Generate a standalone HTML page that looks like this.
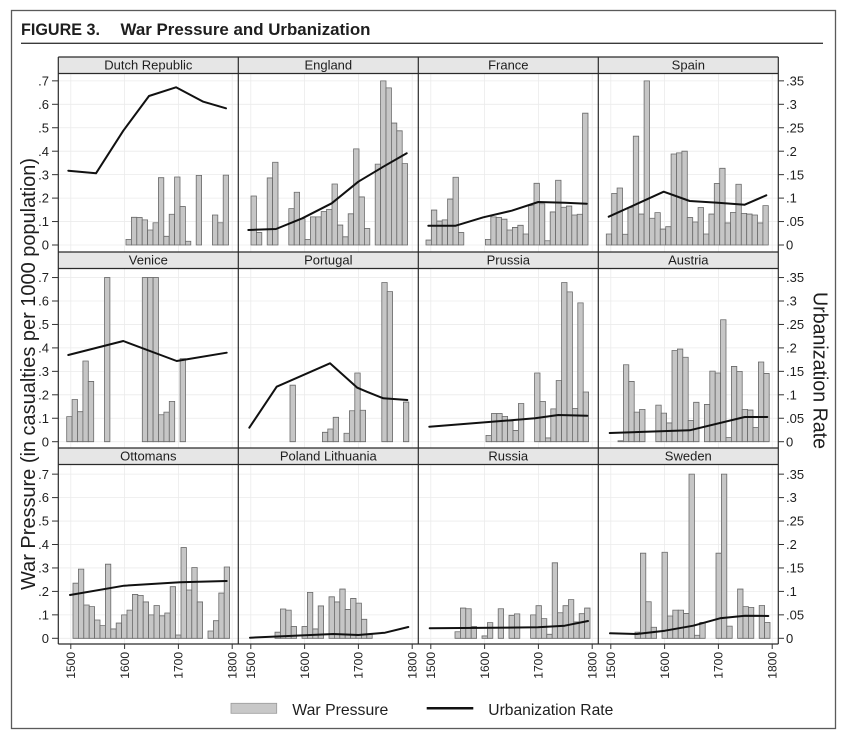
<!DOCTYPE html>
<html><head><meta charset="utf-8"><style>
html,body{margin:0;padding:0;background:#fff;}
svg{display:block;}
text{font-family:"Liberation Sans",Arial,sans-serif;fill:#1e1e1e;}
.b rect{fill:#c6c6c6;stroke:#6a6a6a;stroke-width:0.8;vector-effect:non-scaling-stroke;}
.ln{fill:none;stroke:#111;stroke-width:2;stroke-linejoin:round;stroke-linecap:round;}
.g{stroke:#ebebeb;stroke-width:0.8;}
.f{stroke:#2a2a2a;stroke-width:1.2;}
.t{stroke:#333;stroke-width:1;}
.yl{font-size:13px;}
.xl{font-size:12px;}
.hd{font-size:13px;}
</style></head><body>
<svg width="843" height="736" viewBox="0 0 843 736" xmlns="http://www.w3.org/2000/svg">
<rect x="0" y="0" width="843" height="736" fill="#fff"/>
<rect x="11.5" y="10.5" width="824" height="718" fill="none" stroke="#5a5a5a" stroke-width="1.3"/>
<text x="21" y="35" style="font-size:16.5px;font-weight:bold" textLength="79" lengthAdjust="spacingAndGlyphs">FIGURE 3.</text>
<text x="120.5" y="35" style="font-size:16.5px;font-weight:bold" textLength="250" lengthAdjust="spacingAndGlyphs">War Pressure and Urbanization</text>
<line x1="21" y1="43.3" x2="823" y2="43.3" stroke="#3a3a3a" stroke-width="1.3"/>

<!-- horizontal grid -->
<g class="g">
<line x1="58.3" x2="778.3" y1="221.55" y2="221.55"/><line x1="58.3" x2="778.3" y1="198.1" y2="198.1"/><line x1="58.3" x2="778.3" y1="174.65" y2="174.65"/><line x1="58.3" x2="778.3" y1="151.2" y2="151.2"/><line x1="58.3" x2="778.3" y1="127.75" y2="127.75"/><line x1="58.3" x2="778.3" y1="104.3" y2="104.3"/><line x1="58.3" x2="778.3" y1="80.85" y2="80.85"/><line x1="58.3" x2="778.3" y1="245" y2="245"/>
<line x1="58.3" x2="778.3" y1="418.25" y2="418.25"/><line x1="58.3" x2="778.3" y1="394.8" y2="394.8"/><line x1="58.3" x2="778.3" y1="371.35" y2="371.35"/><line x1="58.3" x2="778.3" y1="347.9" y2="347.9"/><line x1="58.3" x2="778.3" y1="324.45" y2="324.45"/><line x1="58.3" x2="778.3" y1="301" y2="301"/><line x1="58.3" x2="778.3" y1="277.55" y2="277.55"/><line x1="58.3" x2="778.3" y1="441.7" y2="441.7"/>
<line x1="58.3" x2="778.3" y1="614.85" y2="614.85"/><line x1="58.3" x2="778.3" y1="591.4" y2="591.4"/><line x1="58.3" x2="778.3" y1="567.95" y2="567.95"/><line x1="58.3" x2="778.3" y1="544.5" y2="544.5"/><line x1="58.3" x2="778.3" y1="521.05" y2="521.05"/><line x1="58.3" x2="778.3" y1="497.6" y2="497.6"/><line x1="58.3" x2="778.3" y1="474.15" y2="474.15"/><line x1="58.3" x2="778.3" y1="638.3" y2="638.3"/>
<!-- vertical grid -->
<line x1="70.8" x2="70.8" y1="73" y2="644"/><line x1="124.6" x2="124.6" y1="73" y2="644"/><line x1="178.4" x2="178.4" y1="73" y2="644"/><line x1="232.2" x2="232.2" y1="73" y2="644"/>
<line x1="250.8" x2="250.8" y1="73" y2="644"/><line x1="304.6" x2="304.6" y1="73" y2="644"/><line x1="358.4" x2="358.4" y1="73" y2="644"/><line x1="412.2" x2="412.2" y1="73" y2="644"/>
<line x1="430.8" x2="430.8" y1="73" y2="644"/><line x1="484.6" x2="484.6" y1="73" y2="644"/><line x1="538.4" x2="538.4" y1="73" y2="644"/><line x1="592.2" x2="592.2" y1="73" y2="644"/>
<line x1="610.8" x2="610.8" y1="73" y2="644"/><line x1="664.6" x2="664.6" y1="73" y2="644"/><line x1="718.4" x2="718.4" y1="73" y2="644"/><line x1="772.2" x2="772.2" y1="73" y2="644"/>
</g>

<!-- header strips -->
<g fill="#e6e6e6">
<rect x="58.3" y="57" width="720" height="16.5"/>
<rect x="58.3" y="252" width="720" height="16.5"/>
<rect x="58.3" y="448" width="720" height="16.5"/>
</g>

<!-- BARS row 1 -->
<g class="b" transform="translate(126,245) scale(5.4,-234.5)">
<rect x="0" y="0" width="1" height=".024"/><rect x="1" y="0" width="1" height=".118"/><rect x="2" y="0" width="1" height=".117"/><rect x="3" y="0" width="1" height=".107"/><rect x="4" y="0" width="1" height=".064"/><rect x="5" y="0" width="1" height=".095"/><rect x="6" y="0" width="1" height=".287"/><rect x="7" y="0" width="1" height=".037"/><rect x="8" y="0" width="1" height=".131"/><rect x="9" y="0" width="1" height=".29"/><rect x="10" y="0" width="1" height=".164"/><rect x="11" y="0" width="1" height=".016"/><rect x="13" y="0" width="1" height=".297"/><rect x="16" y="0" width="1" height=".128"/><rect x="17" y="0" width="1" height=".095"/><rect x="18" y="0" width="1" height=".298"/>
</g>
<g class="b" transform="translate(251,245) scale(5.4,-234.5)">
<rect x="0" y="0" width="1" height=".209"/><rect x="1" y="0" width="1" height=".053"/><rect x="3" y="0" width="1" height=".286"/><rect x="4" y="0" width="1" height=".353"/><rect x="7" y="0" width="1" height=".155"/><rect x="8" y="0" width="1" height=".225"/><rect x="9" y="0" width="1" height=".112"/><rect x="10" y="0" width="1" height=".024"/><rect x="11" y="0" width="1" height=".12"/><rect x="12" y="0" width="1" height=".12"/><rect x="13" y="0" width="1" height=".143"/><rect x="14" y="0" width="1" height=".152"/><rect x="15" y="0" width="1" height=".26"/><rect x="16" y="0" width="1" height=".085"/><rect x="17" y="0" width="1" height=".035"/><rect x="18" y="0" width="1" height=".133"/><rect x="19" y="0" width="1" height=".41"/><rect x="20" y="0" width="1" height=".205"/><rect x="21" y="0" width="1" height=".07"/><rect x="23" y="0" width="1" height=".345"/><rect x="24" y="0" width="1" height=".70"/><rect x="25" y="0" width="1" height=".67"/><rect x="26" y="0" width="1" height=".52"/><rect x="27" y="0" width="1" height=".487"/><rect x="28" y="0" width="1" height=".347"/>
</g>
<g class="b" transform="translate(426,245) scale(5.4,-234.5)">
<rect x="0" y="0" width="1" height=".021"/><rect x="1" y="0" width="1" height=".149"/><rect x="2" y="0" width="1" height=".102"/><rect x="3" y="0" width="1" height=".107"/><rect x="4" y="0" width="1" height=".196"/><rect x="5" y="0" width="1" height=".289"/><rect x="6" y="0" width="1" height=".053"/><rect x="11" y="0" width="1" height=".024"/><rect x="12" y="0" width="1" height=".12"/><rect x="13" y="0" width="1" height=".117"/><rect x="14" y="0" width="1" height=".11"/><rect x="15" y="0" width="1" height=".064"/><rect x="16" y="0" width="1" height=".075"/><rect x="17" y="0" width="1" height=".084"/><rect x="18" y="0" width="1" height=".047"/><rect x="19" y="0" width="1" height=".168"/><rect x="20" y="0" width="1" height=".263"/><rect x="21" y="0" width="1" height=".176"/><rect x="22" y="0" width="1" height=".018"/><rect x="23" y="0" width="1" height=".141"/><rect x="24" y="0" width="1" height=".276"/><rect x="25" y="0" width="1" height=".161"/><rect x="26" y="0" width="1" height=".166"/><rect x="27" y="0" width="1" height=".128"/><rect x="28" y="0" width="1" height=".131"/><rect x="29" y="0" width="1" height=".562"/>
</g>
<g class="b" transform="translate(606.3,245) scale(5.4,-234.5)">
<rect x="0" y="0" width="1" height=".047"/><rect x="1" y="0" width="1" height=".22"/><rect x="2" y="0" width="1" height=".243"/><rect x="3" y="0" width="1" height=".046"/><rect x="4" y="0" width="1" height=".16"/><rect x="5" y="0" width="1" height=".464"/><rect x="6" y="0" width="1" height=".132"/><rect x="7" y="0" width="1" height=".70"/><rect x="8" y="0" width="1" height=".114"/><rect x="9" y="0" width="1" height=".138"/><rect x="10" y="0" width="1" height=".068"/><rect x="11" y="0" width="1" height=".078"/><rect x="12" y="0" width="1" height=".388"/><rect x="13" y="0" width="1" height=".393"/><rect x="14" y="0" width="1" height=".40"/><rect x="15" y="0" width="1" height=".117"/><rect x="16" y="0" width="1" height=".098"/><rect x="17" y="0" width="1" height=".16"/><rect x="18" y="0" width="1" height=".047"/><rect x="19" y="0" width="1" height=".132"/><rect x="20" y="0" width="1" height=".262"/><rect x="21" y="0" width="1" height=".327"/><rect x="22" y="0" width="1" height=".094"/><rect x="23" y="0" width="1" height=".139"/><rect x="24" y="0" width="1" height=".259"/><rect x="25" y="0" width="1" height=".135"/><rect x="26" y="0" width="1" height=".132"/><rect x="27" y="0" width="1" height=".128"/><rect x="28" y="0" width="1" height=".094"/><rect x="29" y="0" width="1" height=".168"/>
</g>

<!-- BARS row 2 -->
<g class="b" transform="translate(66.7,441.7) scale(5.4,-234.5)">
<rect x="0" y="0" width="1" height=".107"/><rect x="1" y="0" width="1" height=".18"/><rect x="2" y="0" width="1" height=".128"/><rect x="3" y="0" width="1" height=".344"/><rect x="4" y="0" width="1" height=".257"/><rect x="7" y="0" width="1" height=".70"/><rect x="14" y="0" width="1" height=".70"/><rect x="15" y="0" width="1" height=".70"/><rect x="16" y="0" width="1" height=".70"/><rect x="17" y="0" width="1" height=".115"/><rect x="18" y="0" width="1" height=".126"/><rect x="19" y="0" width="1" height=".172"/><rect x="21" y="0" width="1" height=".354"/>
</g>
<g class="b" transform="translate(290,441.7) scale(5.4,-234.5)">
<rect x="0" y="0" width="1" height=".241"/><rect x="6" y="0" width="1" height=".04"/><rect x="7" y="0" width="1" height=".054"/><rect x="8" y="0" width="1" height=".104"/><rect x="10" y="0" width="1" height=".036"/><rect x="11" y="0" width="1" height=".132"/><rect x="12" y="0" width="1" height=".293"/><rect x="13" y="0" width="1" height=".134"/><rect x="17" y="0" width="1" height=".679"/><rect x="18" y="0" width="1" height=".64"/><rect x="21" y="0" width="1" height=".169"/>
</g>
<g class="b" transform="translate(486,441.7) scale(5.4,-234.5)">
<rect x="0" y="0" width="1" height=".027"/><rect x="1" y="0" width="1" height=".12"/><rect x="2" y="0" width="1" height=".12"/><rect x="3" y="0" width="1" height=".108"/><rect x="4" y="0" width="1" height=".088"/><rect x="5" y="0" width="1" height=".048"/><rect x="6" y="0" width="1" height=".163"/><rect x="9" y="0" width="1" height=".293"/><rect x="10" y="0" width="1" height=".172"/><rect x="11" y="0" width="1" height=".016"/><rect x="12" y="0" width="1" height=".14"/><rect x="13" y="0" width="1" height=".261"/><rect x="14" y="0" width="1" height=".679"/><rect x="15" y="0" width="1" height=".639"/><rect x="16" y="0" width="1" height=".142"/><rect x="17" y="0" width="1" height=".592"/><rect x="18" y="0" width="1" height=".212"/>
</g>
<g class="b" transform="translate(618,441.7) scale(5.4,-234.5)">
<rect x="0" y="0" width="1" height=".004"/><rect x="1" y="0" width="1" height=".328"/><rect x="2" y="0" width="1" height=".257"/><rect x="3" y="0" width="1" height=".126"/><rect x="4" y="0" width="1" height=".138"/><rect x="7" y="0" width="1" height=".156"/><rect x="8" y="0" width="1" height=".122"/><rect x="9" y="0" width="1" height=".08"/><rect x="10" y="0" width="1" height=".389"/><rect x="11" y="0" width="1" height=".395"/><rect x="12" y="0" width="1" height=".36"/><rect x="13" y="0" width="1" height=".091"/><rect x="14" y="0" width="1" height=".168"/><rect x="16" y="0" width="1" height=".159"/><rect x="17" y="0" width="1" height=".301"/><rect x="18" y="0" width="1" height=".293"/><rect x="19" y="0" width="1" height=".52"/><rect x="20" y="0" width="1" height=".018"/><rect x="21" y="0" width="1" height=".321"/><rect x="22" y="0" width="1" height=".30"/><rect x="23" y="0" width="1" height=".138"/><rect x="24" y="0" width="1" height=".135"/><rect x="25" y="0" width="1" height=".061"/><rect x="26" y="0" width="1" height=".34"/><rect x="27" y="0" width="1" height=".291"/>
</g>

<!-- BARS row 3 -->
<g class="b" transform="translate(73,638.3) scale(5.4,-234.5)">
<rect x="0" y="0" width="1" height=".235"/><rect x="1" y="0" width="1" height=".295"/><rect x="2" y="0" width="1" height=".142"/><rect x="3" y="0" width="1" height=".135"/><rect x="4" y="0" width="1" height=".078"/><rect x="5" y="0" width="1" height=".054"/><rect x="6" y="0" width="1" height=".316"/><rect x="7" y="0" width="1" height=".04"/><rect x="8" y="0" width="1" height=".065"/><rect x="9" y="0" width="1" height=".1"/><rect x="10" y="0" width="1" height=".12"/><rect x="11" y="0" width="1" height=".187"/><rect x="12" y="0" width="1" height=".183"/><rect x="13" y="0" width="1" height=".155"/><rect x="14" y="0" width="1" height=".1"/><rect x="15" y="0" width="1" height=".14"/><rect x="16" y="0" width="1" height=".096"/><rect x="17" y="0" width="1" height=".108"/><rect x="18" y="0" width="1" height=".22"/><rect x="19" y="0" width="1" height=".014"/><rect x="20" y="0" width="1" height=".387"/><rect x="21" y="0" width="1" height=".206"/><rect x="22" y="0" width="1" height=".302"/><rect x="23" y="0" width="1" height=".155"/><rect x="25" y="0" width="1" height=".031"/><rect x="26" y="0" width="1" height=".075"/><rect x="27" y="0" width="1" height=".193"/><rect x="28" y="0" width="1" height=".304"/>
</g>
<g class="b" transform="translate(275,638.3) scale(5.4,-234.5)">
<rect x="0" y="0" width="1" height=".026"/><rect x="1" y="0" width="1" height=".125"/><rect x="2" y="0" width="1" height=".12"/><rect x="3" y="0" width="1" height=".05"/><rect x="5" y="0" width="1" height=".05"/><rect x="6" y="0" width="1" height=".196"/><rect x="7" y="0" width="1" height=".04"/><rect x="8" y="0" width="1" height=".138"/><rect x="10" y="0" width="1" height=".177"/><rect x="11" y="0" width="1" height=".155"/><rect x="12" y="0" width="1" height=".21"/><rect x="13" y="0" width="1" height=".123"/><rect x="14" y="0" width="1" height=".17"/><rect x="15" y="0" width="1" height=".15"/><rect x="16" y="0" width="1" height=".081"/><rect x="17" y="0" width="1" height=".017"/>
</g>
<g class="b" transform="translate(455,638.3) scale(5.4,-234.5)">
<rect x="0" y="0" width="1" height=".028"/><rect x="1" y="0" width="1" height=".129"/><rect x="2" y="0" width="1" height=".126"/><rect x="3" y="0" width="1" height=".05"/><rect x="5" y="0" width="1" height=".01"/><rect x="6" y="0" width="1" height=".067"/><rect x="8" y="0" width="1" height=".126"/><rect x="10" y="0" width="1" height=".098"/><rect x="11" y="0" width="1" height=".104"/><rect x="14" y="0" width="1" height=".10"/><rect x="15" y="0" width="1" height=".139"/><rect x="16" y="0" width="1" height=".084"/><rect x="17" y="0" width="1" height=".017"/><rect x="18" y="0" width="1" height=".322"/><rect x="19" y="0" width="1" height=".109"/><rect x="20" y="0" width="1" height=".139"/><rect x="21" y="0" width="1" height=".165"/><rect x="22" y="0" width="1" height=".07"/><rect x="23" y="0" width="1" height=".105"/><rect x="24" y="0" width="1" height=".129"/>
</g>
<g class="b" transform="translate(635,638.3) scale(5.4,-234.5)">
<rect x="0" y="0" width="1" height=".026"/><rect x="1" y="0" width="1" height=".363"/><rect x="2" y="0" width="1" height=".156"/><rect x="3" y="0" width="1" height=".047"/><rect x="5" y="0" width="1" height=".367"/><rect x="6" y="0" width="1" height=".095"/><rect x="7" y="0" width="1" height=".12"/><rect x="8" y="0" width="1" height=".12"/><rect x="9" y="0" width="1" height=".106"/><rect x="10" y="0" width="1" height=".70"/><rect x="11" y="0" width="1" height=".013"/><rect x="12" y="0" width="1" height=".068"/><rect x="15" y="0" width="1" height=".363"/><rect x="16" y="0" width="1" height=".70"/><rect x="17" y="0" width="1" height=".052"/><rect x="19" y="0" width="1" height=".21"/><rect x="20" y="0" width="1" height=".135"/><rect x="21" y="0" width="1" height=".132"/><rect x="23" y="0" width="1" height=".14"/><rect x="24" y="0" width="1" height=".068"/>
</g>

<!-- LINES -->
<polyline class="ln" points="68.3,170.7 96,173.3 123.3,130.7 149,96 176,87.3 203.3,101.7 226,108.3"/>
<polyline class="ln" points="248.3,230 276,229 302.3,218.3 331.7,203.3 358.3,181.7 383.3,166.7 406.7,153.3"/>
<polyline class="ln" points="428.3,225.7 455.7,225.7 483.3,217.3 511.7,210.7 538.3,202 565,202.7 586.7,203.7"/>
<polyline class="ln" points="608.7,216.7 663.7,191.7 689.7,201 718,202.7 744.7,204.7 766.3,195.3"/>
<polyline class="ln" points="68.3,355 123.3,341 176.7,361 226.7,352.7"/>
<polyline class="ln" points="249.3,427.7 276.7,386.7 330,363.3 357.3,387.7 366.7,391.7 383.3,398.3 407.3,400"/>
<polyline class="ln" points="429.3,426.7 535,418.3 558.3,415 587.3,415.7"/>
<polyline class="ln" points="609.7,433 689.7,430.3 744.7,417 767.3,417"/>
<polyline class="ln" points="70,595 124,585.7 180,582.3 226.7,581"/>
<polyline class="ln" points="250,637.7 333.3,634 358.3,635 385,632.7 408.3,627"/>
<polyline class="ln" points="429.7,628.3 538,627.3 564.7,625.7 588,621"/>
<polyline class="ln" points="610,633.3 636.7,634 665,630.7 693.3,625.7 720,618.3 745,615.7 768.3,616"/>

<!-- frame lines -->
<g class="f">
<line x1="58.3" x2="778.3" y1="57" y2="57"/><line x1="58.3" x2="778.3" y1="73.5" y2="73.5"/>
<line x1="58.3" x2="778.3" y1="252" y2="252"/><line x1="58.3" x2="778.3" y1="268.5" y2="268.5"/>
<line x1="58.3" x2="778.3" y1="448" y2="448"/><line x1="58.3" x2="778.3" y1="464.5" y2="464.5"/>
<line x1="58.3" x2="778.3" y1="644" y2="644"/>
<line x1="58.3" x2="58.3" y1="57" y2="644"/><line x1="238.3" x2="238.3" y1="57" y2="644"/><line x1="418.3" x2="418.3" y1="57" y2="644"/><line x1="598.3" x2="598.3" y1="57" y2="644"/><line x1="778.3" x2="778.3" y1="57" y2="644"/>
</g>

<!-- headers text -->
<g class="hd" text-anchor="middle">
<text x="148.3" y="69.5">Dutch Republic</text><text x="328.3" y="69.5">England</text><text x="508.3" y="69.5">France</text><text x="688.3" y="69.5">Spain</text>
<text x="148.3" y="264.5">Venice</text><text x="328.3" y="264.5">Portugal</text><text x="508.3" y="264.5">Prussia</text><text x="688.3" y="264.5">Austria</text>
<text x="148.3" y="460.5">Ottomans</text><text x="328.3" y="460.5">Poland Lithuania</text><text x="508.3" y="460.5">Russia</text><text x="688.3" y="460.5">Sweden</text>
</g>

<!-- left ticks -->
<g class="t">
<line x1="52" x2="58.3" y1="245" y2="245"/><line x1="52" x2="58.3" y1="221.55" y2="221.55"/><line x1="52" x2="58.3" y1="198.1" y2="198.1"/><line x1="52" x2="58.3" y1="174.65" y2="174.65"/><line x1="52" x2="58.3" y1="151.2" y2="151.2"/><line x1="52" x2="58.3" y1="127.75" y2="127.75"/><line x1="52" x2="58.3" y1="104.3" y2="104.3"/><line x1="52" x2="58.3" y1="80.85" y2="80.85"/>
<line x1="52" x2="58.3" y1="441.7" y2="441.7"/><line x1="52" x2="58.3" y1="418.25" y2="418.25"/><line x1="52" x2="58.3" y1="394.8" y2="394.8"/><line x1="52" x2="58.3" y1="371.35" y2="371.35"/><line x1="52" x2="58.3" y1="347.9" y2="347.9"/><line x1="52" x2="58.3" y1="324.45" y2="324.45"/><line x1="52" x2="58.3" y1="301" y2="301"/><line x1="52" x2="58.3" y1="277.55" y2="277.55"/>
<line x1="52" x2="58.3" y1="638.3" y2="638.3"/><line x1="52" x2="58.3" y1="614.85" y2="614.85"/><line x1="52" x2="58.3" y1="591.4" y2="591.4"/><line x1="52" x2="58.3" y1="567.95" y2="567.95"/><line x1="52" x2="58.3" y1="544.5" y2="544.5"/><line x1="52" x2="58.3" y1="521.05" y2="521.05"/><line x1="52" x2="58.3" y1="497.6" y2="497.6"/><line x1="52" x2="58.3" y1="474.15" y2="474.15"/>
<!-- right ticks -->
<line x1="778.3" x2="784" y1="245" y2="245"/><line x1="778.3" x2="784" y1="221.55" y2="221.55"/><line x1="778.3" x2="784" y1="198.1" y2="198.1"/><line x1="778.3" x2="784" y1="174.65" y2="174.65"/><line x1="778.3" x2="784" y1="151.2" y2="151.2"/><line x1="778.3" x2="784" y1="127.75" y2="127.75"/><line x1="778.3" x2="784" y1="104.3" y2="104.3"/><line x1="778.3" x2="784" y1="80.85" y2="80.85"/>
<line x1="778.3" x2="784" y1="441.7" y2="441.7"/><line x1="778.3" x2="784" y1="418.25" y2="418.25"/><line x1="778.3" x2="784" y1="394.8" y2="394.8"/><line x1="778.3" x2="784" y1="371.35" y2="371.35"/><line x1="778.3" x2="784" y1="347.9" y2="347.9"/><line x1="778.3" x2="784" y1="324.45" y2="324.45"/><line x1="778.3" x2="784" y1="301" y2="301"/><line x1="778.3" x2="784" y1="277.55" y2="277.55"/>
<line x1="778.3" x2="784" y1="638.3" y2="638.3"/><line x1="778.3" x2="784" y1="614.85" y2="614.85"/><line x1="778.3" x2="784" y1="591.4" y2="591.4"/><line x1="778.3" x2="784" y1="567.95" y2="567.95"/><line x1="778.3" x2="784" y1="544.5" y2="544.5"/><line x1="778.3" x2="784" y1="521.05" y2="521.05"/><line x1="778.3" x2="784" y1="497.6" y2="497.6"/><line x1="778.3" x2="784" y1="474.15" y2="474.15"/>
<!-- x ticks -->
<line x1="70.8" x2="70.8" y1="644" y2="649"/><line x1="124.6" x2="124.6" y1="644" y2="649"/><line x1="178.4" x2="178.4" y1="644" y2="649"/><line x1="232.2" x2="232.2" y1="644" y2="649"/>
<line x1="250.8" x2="250.8" y1="644" y2="649"/><line x1="304.6" x2="304.6" y1="644" y2="649"/><line x1="358.4" x2="358.4" y1="644" y2="649"/><line x1="412.2" x2="412.2" y1="644" y2="649"/>
<line x1="430.8" x2="430.8" y1="644" y2="649"/><line x1="484.6" x2="484.6" y1="644" y2="649"/><line x1="538.4" x2="538.4" y1="644" y2="649"/><line x1="592.2" x2="592.2" y1="644" y2="649"/>
<line x1="610.8" x2="610.8" y1="644" y2="649"/><line x1="664.6" x2="664.6" y1="644" y2="649"/><line x1="718.4" x2="718.4" y1="644" y2="649"/><line x1="772.2" x2="772.2" y1="644" y2="649"/>
</g>

<!-- left tick labels -->
<g class="yl" text-anchor="end">
<text x="49" y="249.6">0</text><text x="49" y="226.15">.1</text><text x="49" y="202.7">.2</text><text x="49" y="179.25">.3</text><text x="49" y="155.8">.4</text><text x="49" y="132.35">.5</text><text x="49" y="108.9">.6</text><text x="49" y="85.45">.7</text>
<text x="49" y="446.3">0</text><text x="49" y="422.85">.1</text><text x="49" y="399.4">.2</text><text x="49" y="375.95">.3</text><text x="49" y="352.5">.4</text><text x="49" y="329.05">.5</text><text x="49" y="305.6">.6</text><text x="49" y="282.15">.7</text>
<text x="49" y="642.9">0</text><text x="49" y="619.45">.1</text><text x="49" y="596">.2</text><text x="49" y="572.55">.3</text><text x="49" y="549.1">.4</text><text x="49" y="525.65">.5</text><text x="49" y="502.2">.6</text><text x="49" y="478.75">.7</text>
</g>
<!-- right tick labels -->
<g class="yl">
<text x="786" y="249.6">0</text><text x="786" y="226.15">.05</text><text x="786" y="202.7">.1</text><text x="786" y="179.25">.15</text><text x="786" y="155.8">.2</text><text x="786" y="132.35">.25</text><text x="786" y="108.9">.3</text><text x="786" y="85.45">.35</text>
<text x="786" y="446.3">0</text><text x="786" y="422.85">.05</text><text x="786" y="399.4">.1</text><text x="786" y="375.95">.15</text><text x="786" y="352.5">.2</text><text x="786" y="329.05">.25</text><text x="786" y="305.6">.3</text><text x="786" y="282.15">.35</text>
<text x="786" y="642.9">0</text><text x="786" y="619.45">.05</text><text x="786" y="596">.1</text><text x="786" y="572.55">.15</text><text x="786" y="549.1">.2</text><text x="786" y="525.65">.25</text><text x="786" y="502.2">.3</text><text x="786" y="478.75">.35</text>
</g>

<!-- x tick labels -->
<g class="xl" text-anchor="end">
<text transform="translate(75.1,652) rotate(-90)">1500</text><text transform="translate(128.9,652) rotate(-90)">1600</text><text transform="translate(182.7,652) rotate(-90)">1700</text><text transform="translate(236.5,652) rotate(-90)">1800</text>
<text transform="translate(255.1,652) rotate(-90)">1500</text><text transform="translate(308.9,652) rotate(-90)">1600</text><text transform="translate(362.7,652) rotate(-90)">1700</text><text transform="translate(416.5,652) rotate(-90)">1800</text>
<text transform="translate(435.1,652) rotate(-90)">1500</text><text transform="translate(488.9,652) rotate(-90)">1600</text><text transform="translate(542.7,652) rotate(-90)">1700</text><text transform="translate(596.5,652) rotate(-90)">1800</text>
<text transform="translate(615.1,652) rotate(-90)">1500</text><text transform="translate(668.9,652) rotate(-90)">1600</text><text transform="translate(722.7,652) rotate(-90)">1700</text><text transform="translate(776.5,652) rotate(-90)">1800</text>
</g>

<!-- axis titles -->
<text transform="translate(35,374) rotate(-90)" text-anchor="middle" style="font-size:20px" textLength="432" lengthAdjust="spacingAndGlyphs">War Pressure (in casualties per 1000 population)</text>
<text transform="translate(813.5,370.5) rotate(90)" text-anchor="middle" style="font-size:20px" textLength="157" lengthAdjust="spacingAndGlyphs">Urbanization Rate</text>

<!-- legend -->
<rect x="231" y="703.3" width="45.7" height="10" fill="#c8c8c8" stroke="#9a9a9a" stroke-width="0.8"/>
<text x="292.3" y="715" style="font-size:15.7px" textLength="96" lengthAdjust="spacingAndGlyphs">War Pressure</text>
<line x1="426.7" y1="708.3" x2="473.3" y2="708.3" stroke="#111" stroke-width="2.5"/>
<text x="488.3" y="715" style="font-size:15.7px" textLength="125" lengthAdjust="spacingAndGlyphs">Urbanization Rate</text>
</svg>
</body></html>
